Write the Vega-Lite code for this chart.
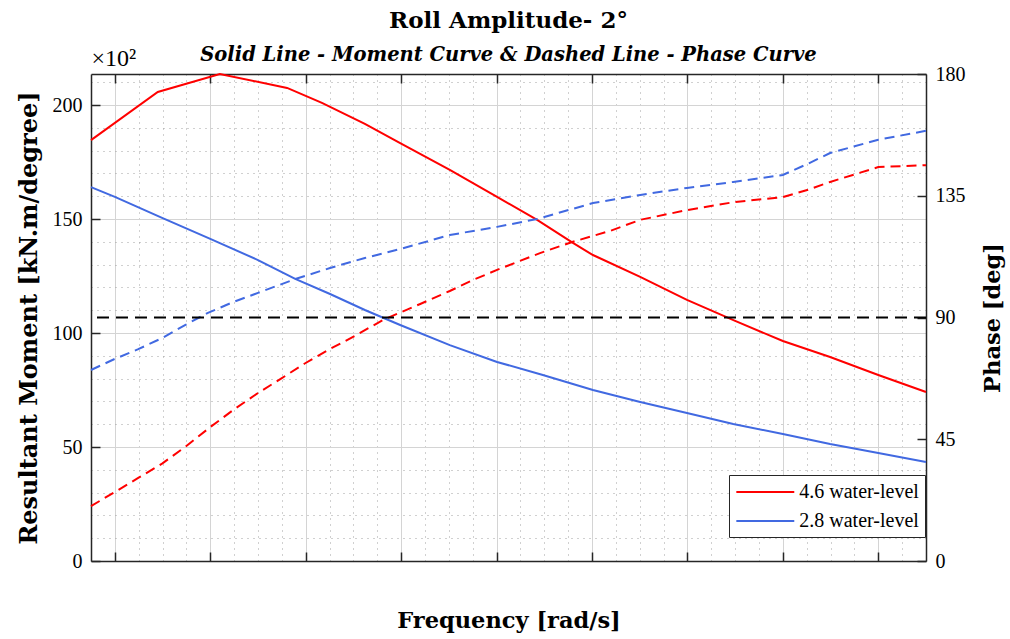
{
  "$schema": "https://vega.github.io/schema/vega-lite/v6.json",
  "width": 835,
  "height": 487,
  "autosize": {"type": "none"},
  "padding": {"left": 91, "top": 74, "right": 84, "bottom": 78},
  "background": "white",
  "config": {
    "view": {"stroke": null},
    "axis": {
      "labelFont": "Liberation Serif",
      "labelFontSize": 20,
      "labelColor": "black",
      "titleFont": "DejaVu Serif",
      "titleFontSize": 22.5,
      "titleFontWeight": "bold",
      "titleColor": "black",
      "domainColor": "#262626",
      "domainWidth": 1.5,
      "tickColor": "#262626",
      "tickWidth": 1.5,
      "tickSize": -9,
      "labelPadding": 18
    }
  },
  "title": {
    "text": "Roll Amplitude- 2°",
    "subtitle": "Solid Line - Moment Curve & Dashed Line - Phase Curve",
    "frame": "group",
    "anchor": "middle",
    "font": "DejaVu Serif",
    "fontSize": 23,
    "fontWeight": "bold",
    "color": "black",
    "subtitleFont": "DejaVu Serif",
    "subtitleFontSize": 19.5,
    "subtitleFontWeight": "bold",
    "subtitleFontStyle": "italic",
    "subtitleColor": "black",
    "subtitlePadding": 13,
    "offset": -18
  },
  "datasets": {
    "moment": [
      {"freq": 0.35, "level": "4.6 water-level", "moment": 184.6},
      {"freq": 0.49, "level": "4.6 water-level", "moment": 205.7},
      {"freq": 0.62, "level": "4.6 water-level", "moment": 213.6},
      {"freq": 0.761, "level": "4.6 water-level", "moment": 207.5},
      {"freq": 0.834, "level": "4.6 water-level", "moment": 200.9},
      {"freq": 0.924, "level": "4.6 water-level", "moment": 191.7},
      {"freq": 0.998, "level": "4.6 water-level", "moment": 183.3},
      {"freq": 1.102, "level": "4.6 water-level", "moment": 171.5},
      {"freq": 1.201, "level": "4.6 water-level", "moment": 159.7},
      {"freq": 1.285, "level": "4.6 water-level", "moment": 149.6},
      {"freq": 1.36, "level": "4.6 water-level", "moment": 139.5},
      {"freq": 1.402, "level": "4.6 water-level", "moment": 134.2},
      {"freq": 1.501, "level": "4.6 water-level", "moment": 124.6},
      {"freq": 1.599, "level": "4.6 water-level", "moment": 114.5},
      {"freq": 1.7, "level": "4.6 water-level", "moment": 105.3},
      {"freq": 1.8, "level": "4.6 water-level", "moment": 96.5},
      {"freq": 1.899, "level": "4.6 water-level", "moment": 89.5},
      {"freq": 2.0, "level": "4.6 water-level", "moment": 81.6},
      {"freq": 2.1, "level": "4.6 water-level", "moment": 74.1},
      {"freq": 0.35, "level": "2.8 water-level", "moment": 164.0},
      {"freq": 0.4, "level": "2.8 water-level", "moment": 159.7},
      {"freq": 0.499, "level": "2.8 water-level", "moment": 150.5},
      {"freq": 0.6, "level": "2.8 water-level", "moment": 141.3},
      {"freq": 0.7, "level": "2.8 water-level", "moment": 132.0},
      {"freq": 0.778, "level": "2.8 water-level", "moment": 123.7},
      {"freq": 0.851, "level": "2.8 water-level", "moment": 117.1},
      {"freq": 0.924, "level": "2.8 water-level", "moment": 110.1},
      {"freq": 0.998, "level": "2.8 water-level", "moment": 103.5},
      {"freq": 1.102, "level": "2.8 water-level", "moment": 94.7},
      {"freq": 1.201, "level": "2.8 water-level", "moment": 87.3},
      {"freq": 1.297, "level": "2.8 water-level", "moment": 81.6},
      {"freq": 1.402, "level": "2.8 water-level", "moment": 75.0},
      {"freq": 1.501, "level": "2.8 water-level", "moment": 69.7},
      {"freq": 1.599, "level": "2.8 water-level", "moment": 64.9},
      {"freq": 1.696, "level": "2.8 water-level", "moment": 60.1},
      {"freq": 1.8, "level": "2.8 water-level", "moment": 55.7},
      {"freq": 1.899, "level": "2.8 water-level", "moment": 51.3},
      {"freq": 2.0, "level": "2.8 water-level", "moment": 47.4},
      {"freq": 2.1, "level": "2.8 water-level", "moment": 43.4}
    ],
    "phase": [
      {"freq": 0.35, "level": "4.6 water-level", "phase": 20.3},
      {"freq": 0.4, "level": "4.6 water-level", "phase": 25.5},
      {"freq": 0.449, "level": "4.6 water-level", "phase": 30.7},
      {"freq": 0.499, "level": "4.6 water-level", "phase": 36.0},
      {"freq": 0.547, "level": "4.6 water-level", "phase": 42.1},
      {"freq": 0.6, "level": "4.6 water-level", "phase": 49.5},
      {"freq": 0.648, "level": "4.6 water-level", "phase": 55.8},
      {"freq": 0.7, "level": "4.6 water-level", "phase": 62.1},
      {"freq": 0.75, "level": "4.6 water-level", "phase": 67.6},
      {"freq": 0.798, "level": "4.6 water-level", "phase": 73.0},
      {"freq": 0.847, "level": "4.6 water-level", "phase": 78.0},
      {"freq": 0.903, "level": "4.6 water-level", "phase": 83.2},
      {"freq": 0.962, "level": "4.6 water-level", "phase": 89.1},
      {"freq": 1.04, "level": "4.6 water-level", "phase": 95.0},
      {"freq": 1.102, "level": "4.6 water-level", "phase": 99.8},
      {"freq": 1.151, "level": "4.6 water-level", "phase": 103.9},
      {"freq": 1.201, "level": "4.6 water-level", "phase": 107.6},
      {"freq": 1.291, "level": "4.6 water-level", "phase": 113.8},
      {"freq": 1.36, "level": "4.6 water-level", "phase": 118.0},
      {"freq": 1.438, "level": "4.6 water-level", "phase": 122.0},
      {"freq": 1.501, "level": "4.6 water-level", "phase": 126.1},
      {"freq": 1.599, "level": "4.6 water-level", "phase": 129.7},
      {"freq": 1.696, "level": "4.6 water-level", "phase": 132.6},
      {"freq": 1.8, "level": "4.6 water-level", "phase": 134.5},
      {"freq": 1.851, "level": "4.6 water-level", "phase": 137.1},
      {"freq": 1.899, "level": "4.6 water-level", "phase": 140.1},
      {"freq": 2.0, "level": "4.6 water-level", "phase": 145.6},
      {"freq": 2.1, "level": "4.6 water-level", "phase": 146.3},
      {"freq": 0.35, "level": "2.8 water-level", "phase": 70.6},
      {"freq": 0.4, "level": "2.8 water-level", "phase": 74.7},
      {"freq": 0.449, "level": "2.8 water-level", "phase": 78.3},
      {"freq": 0.499, "level": "2.8 water-level", "phase": 82.4},
      {"freq": 0.547, "level": "2.8 water-level", "phase": 87.2},
      {"freq": 0.595, "level": "2.8 water-level", "phase": 91.7},
      {"freq": 0.648, "level": "2.8 water-level", "phase": 95.7},
      {"freq": 0.7, "level": "2.8 water-level", "phase": 99.1},
      {"freq": 0.778, "level": "2.8 water-level", "phase": 104.2},
      {"freq": 0.851, "level": "2.8 water-level", "phase": 108.3},
      {"freq": 0.924, "level": "2.8 water-level", "phase": 112.0},
      {"freq": 0.998, "level": "2.8 water-level", "phase": 115.3},
      {"freq": 1.102, "level": "2.8 water-level", "phase": 120.5},
      {"freq": 1.201, "level": "2.8 water-level", "phase": 123.5},
      {"freq": 1.285, "level": "2.8 water-level", "phase": 126.4},
      {"freq": 1.402, "level": "2.8 water-level", "phase": 132.3},
      {"freq": 1.501, "level": "2.8 water-level", "phase": 135.3},
      {"freq": 1.599, "level": "2.8 water-level", "phase": 137.9},
      {"freq": 1.696, "level": "2.8 water-level", "phase": 140.1},
      {"freq": 1.8, "level": "2.8 water-level", "phase": 142.7},
      {"freq": 1.851, "level": "2.8 water-level", "phase": 146.7},
      {"freq": 1.899, "level": "2.8 water-level", "phase": 150.8},
      {"freq": 2.0, "level": "2.8 water-level", "phase": 155.7},
      {"freq": 2.1, "level": "2.8 water-level", "phase": 159.0}
    ]
  },
  "layer": [
    {
      "data": {"name": "moment"},
      "mark": {"type": "line", "strokeWidth": 2},
      "encoding": {
        "x": {
          "field": "freq",
          "type": "quantitative",
          "scale": {"domain": [0.35, 2.1], "nice": false, "zero": false},
          "axis": {
            "orient": "bottom",
            "values": [0.4, 0.45, 0.5, 0.55, 0.6, 0.65, 0.7, 0.75, 0.8, 0.85, 0.9, 0.95, 1, 1.05, 1.1, 1.15, 1.2, 1.25, 1.3, 1.35, 1.4, 1.45, 1.5, 1.55, 1.6, 1.65, 1.7, 1.75, 1.8, 1.85, 1.9, 1.95, 2, 2.05],
            "labels": false,
            "title": "Frequency [rad/s]",
            "titlePadding": 48,
            "grid": true,
            "gridColor": {"condition": {"test": "abs(datum.value*5 - round(datum.value*5)) < 0.01", "value": "#d4d4d4"}, "value": "#a0a0a0"},
            "gridDash": {"condition": {"test": "abs(datum.value*5 - round(datum.value*5)) < 0.01", "value": []}, "value": [1, 5]},
            "tickOpacity": {"condition": {"test": "abs(datum.value*5 - round(datum.value*5)) < 0.01", "value": 1}, "value": 0}
          }
        },
        "y": {
          "field": "moment",
          "type": "quantitative",
          "scale": {"domain": [0, 213.6], "nice": false},
          "axis": {
            "orient": "left",
            "values": [0, 10, 20, 30, 40, 50, 60, 70, 80, 90, 100, 110, 120, 130, 140, 150, 160, 170, 180, 190, 200, 210],
            "labelExpr": "datum.value % 50 === 0 ? datum.label : ''",
            "title": "Resultant Moment [kN.m/degree]",
            "titleFontSize": 24,
            "titlePadding": 11,
            "grid": true,
            "gridColor": {"condition": {"test": "datum.value % 50 === 0", "value": "#d4d4d4"}, "value": "#a0a0a0"},
            "gridDash": {"condition": {"test": "datum.value % 50 === 0", "value": []}, "value": [1, 5]},
            "tickOpacity": {"condition": {"test": "datum.value % 50 === 0", "value": 1}, "value": 0}
          }
        },
        "color": {
          "field": "level",
          "type": "nominal",
          "scale": {"domain": ["4.6 water-level", "2.8 water-level"], "range": ["#ff0000", "#4169e1"]},
          "legend": {
            "orient": "none",
            "legendX": 638,
            "legendY": 401,
            "title": null,
            "symbolType": "M-3,0H3",
            "symbolStrokeWidth": 2,
            "symbolSize": 373,
            "symbolOffset": 19.3,
            "labelFont": "Liberation Serif",
            "labelFontSize": 20,
            "labelColor": "black",
            "labelOffset": 23,
            "labelLimit": 300,
            "strokeColor": "#262626",
            "fillColor": "white",
            "padding": 6,
            "rowPadding": 8
          }
        }
      }
    },
    {
      "data": {"name": "phase"},
      "mark": {"type": "line", "strokeWidth": 2, "strokeDash": [10, 6]},
      "encoding": {
        "x": {
          "field": "freq",
          "type": "quantitative",
          "scale": {"domain": [0.35, 2.1], "nice": false, "zero": false},
          "axis": {
            "orient": "top",
            "values": [0.4, 0.6, 0.8, 1.0, 1.2, 1.4, 1.6, 1.8, 2.0],
            "labels": false,
            "grid": false,
            "title": "×10²",
            "titleAnchor": "start",
            "titleFont": "Liberation Serif",
            "titleFontWeight": "normal",
            "titleFontSize": 24,
            "titlePadding": 3
          }
        },
        "y": {
          "field": "phase",
          "type": "quantitative",
          "scale": {"domain": [0, 180], "nice": false},
          "axis": {
            "orient": "right",
            "values": [0, 45, 90, 135, 180],
            "grid": false,
            "title": "Phase [deg]",
            "titleAngle": 270,
            "titleBaseline": "top",
            "titlePadding": 16
          }
        },
        "color": {"field": "level", "type": "nominal", "legend": null}
      }
    },
    {
      "data": {"values": [{}]},
      "mark": {"type": "rule", "color": "black", "strokeWidth": 2, "strokeDash": [12, 7]},
      "encoding": {
        "y": {"datum": 90, "type": "quantitative", "scale": {"domain": [0, 180], "nice": false}, "axis": null}
      }
    }
  ],
  "resolve": {"scale": {"y": "independent"}, "axis": {"x": "independent", "y": "independent"}}
}
